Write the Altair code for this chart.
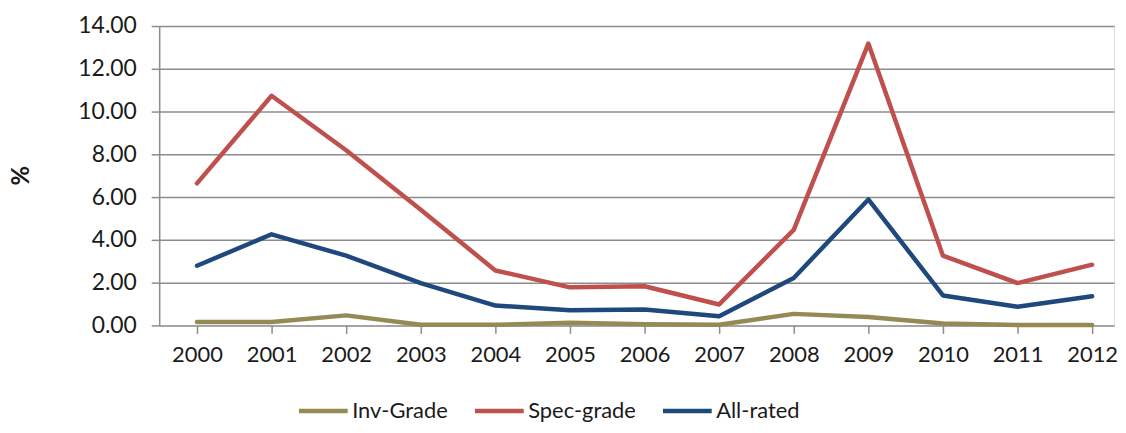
import altair as alt
import pandas as pd

years = [2000, 2001, 2002, 2003, 2004, 2005, 2006, 2007, 2008, 2009, 2010, 2011, 2012]
inv_grade = [0.16, 0.16, 0.47, 0.03, 0.03, 0.12, 0.05, 0.03, 0.54, 0.39, 0.09, 0.02, 0.02]
spec_grade = [6.64, 10.74, 8.19, 5.41, 2.57, 1.78, 1.83, 0.98, 4.47, 13.18, 3.26, 1.98, 2.84]
all_rated = [2.79, 4.26, 3.26, 1.98, 0.93, 0.71, 0.74, 0.43, 2.22, 5.89, 1.40, 0.87, 1.36]

series_names = ["Inv-Grade", "Spec-grade", "All-rated"]
series_colors = ["#948A54", "#C0504D", "#1F497D"]

rows = []
for name, vals in zip(series_names, [inv_grade, spec_grade, all_rated]):
    for y, v in zip(years, vals):
        rows.append({"year": y, "value": v, "series": name, "order": series_names.index(name)})
df = pd.DataFrame(rows)

FONT = "Lato"

chart = alt.Chart(df).mark_line(strokeWidth=4.5, strokeCap="round", strokeJoin="round").encode(
    x=alt.X("year:Q",
            scale=alt.Scale(domain=[2000 - 38 / 75, 2012 + 22 / 75], nice=False, zero=False),
            axis=alt.Axis(values=years, format="d", title=None, grid=False,
                          tickSize=8, tickColor="#8C8C8C", tickWidth=1.5,
                          domain=False,
                          labelFontSize=22, labelFont=FONT, labelColor="#1a1a1a",
                          labelPadding=11)),
    y=alt.Y("value:Q",
            scale=alt.Scale(domain=[0, 14], nice=False),
            axis=alt.Axis(values=[0, 2, 4, 6, 8, 10, 12, 14], format=".2f",
                          title="%", titleFont=FONT, titleFontSize=24, titleFontWeight="bold",
                          titleColor="#1a1a1a", titleAngle=-90, titleX=-138, titleY=150,
                          titleBaseline="middle", titleAlign="center",
                          grid=True, gridColor="#8C8C8C", gridWidth=1.5,
                          domain=True, domainColor="#8C8C8C", domainWidth=1.5,
                          tickSize=8, tickColor="#8C8C8C", tickWidth=1.5,
                          labelFontSize=23, labelFont=FONT, labelColor="#1a1a1a",
                          labelPadding=15)),
    color=alt.Color("series:N",
                    scale=alt.Scale(domain=series_names, range=series_colors),
                    legend=alt.Legend(title=None, orient="none", direction="horizontal",
                                      legendX=138, legendY=360,
                                      symbolType="stroke", symbolSize=2401,
                                      symbolStrokeWidth=4.5,
                                      labelFont=FONT, labelFontSize=22, labelColor="#1a1a1a",
                                      labelOffset=2, columnPadding=17)),
    order=alt.Order("order:Q"),
    detail="series:N",
).properties(
    width=960,
    height=301,
    autosize=alt.AutoSizeParams(type="none"),
    padding={"left": 152, "top": 17, "right": 4, "bottom": 98},
).configure_view(
    fill="#F2F2F2", strokeWidth=0, stroke="transparent"
).configure(background="white")

chart.save("out.html", embed_options={"renderer": "svg", "actions": False})
